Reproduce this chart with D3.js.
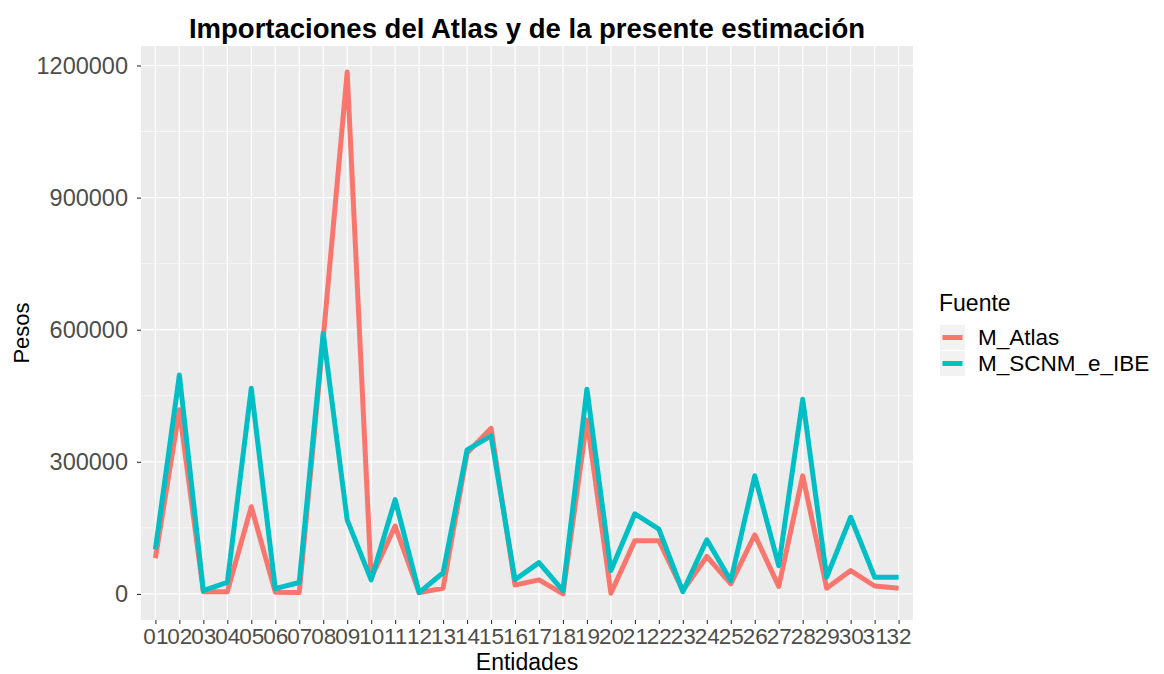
<!DOCTYPE html>
<html>
<head>
<meta charset="utf-8">
<script src="https://cdn.jsdelivr.net/npm/d3@7"></script>
<style>
  body { margin: 0; background: #fff; }
  svg { font-family: "Liberation Sans", Arial, sans-serif; }
</style>
</head>
<body>
<svg id="chart"></svg>
<script>
// Datos
const entidades = ["01","02","03","04","05","06","07","08","09","10","11","12","13","14","15","16",
                   "17","18","19","20","21","22","23","24","25","26","27","28","29","30","31","32"];
const m_atlas = [81000, 418000, 5000, 5000, 198000, 4000, 3000, 580000, 1185000, 36000, 154000, 3000,
                 13000, 320000, 376000, 20000, 32000, 0, 395000, 1500, 121000, 121000, 7500, 85000,
                 23000, 134000, 17000, 268000, 13000, 53000, 18000, 13000];
const m_scnm = [101000, 497000, 7500, 26000, 467000, 12000, 26000, 592000, 168000, 32000, 214000, 3000,
                48000, 327000, 359000, 32000, 71000, 7500, 465000, 53000, 182000, 147000, 5000, 123000,
                30000, 268000, 64000, 442000, 38000, 174000, 38000, 38000];
const fuentes = ["M_Atlas", "M_SCNM_e_IBE"];
const colores = ["#F8766D", "#00BFC4"];
const yTicks = [0, 300000, 600000, 900000, 1200000];
const yMinor = [150000, 450000, 750000, 1050000];

var width = 1164, height = 674;
var margin = { top: 46, right: 251, bottom: 54, left: 141 };
var x0 = margin.left, x1 = width - margin.right,
    y0 = margin.top, y1 = height - margin.bottom;

const svg = d3.select("#chart")
    .attr("width", width)
    .attr("height", height);

svg.append("rect").attr("width", width).attr("height", height).attr("fill", "#fff");

// Escalas
var x = d3.scalePoint()
    .domain(entidades)
    .range([x0, x1])
    .padding(0.6);

var maxV = d3.max(m_atlas.concat(m_scnm));
var minV = d3.min(m_atlas.concat(m_scnm));
var pad = (maxV - minV) * 0.05;
var y = d3.scaleLinear()
    .domain([minV - pad, maxV + pad])
    .range([y1, y0]);

// Panel
svg.append("rect")
    .attr("x", x0).attr("y", y0)
    .attr("width", x1 - x0).attr("height", y1 - y0)
    .attr("fill", "#EBEBEB");

// Rejilla
svg.append("g").selectAll("line")
    .data(yMinor)
    .enter().append("line")
    .attr("x1", x0).attr("x2", x1)
    .attr("y1", d => y(d)).attr("y2", d => y(d))
    .attr("stroke", "#fff").attr("stroke-width", 0.6);

svg.append("g").selectAll("line")
    .data(yTicks)
    .enter().append("line")
    .attr("x1", x0).attr("x2", x1)
    .attr("y1", d => y(d)).attr("y2", d => y(d))
    .attr("stroke", "#fff").attr("stroke-width", 1.2);

svg.append("g").selectAll("line")
    .data(entidades)
    .enter().append("line")
    .attr("x1", d => x(d)).attr("x2", d => x(d))
    .attr("y1", y0).attr("y2", y1)
    .attr("stroke", "#fff").attr("stroke-width", 1.2);

// Lineas
var series = [m_atlas, m_scnm];
var line = d3.line()
    .x((d, i) => x(entidades[i]))
    .y(d => y(d));

svg.append("g").selectAll("path")
    .data(series)
    .enter().append("path")
    .attr("d", d => line(d))
    .attr("fill", "none")
    .attr("stroke", (d, i) => colores[i])
    .attr("stroke-width", 5)
    .attr("stroke-linejoin", "round")
    .attr("stroke-linecap", "butt");

// Eje X
svg.append("g")
    .attr("transform", `translate(0,${y1})`)
    .call(d3.axisBottom(x).tickSize(4).tickPadding(4))
    .call(g => g.select(".domain").remove())
    .call(g => g.selectAll(".tick line").attr("stroke", "#333").attr("stroke-width", 1.1))
    .call(g => g.selectAll(".tick text")
        .attr("fill", "#4D4D4D")
        .style("font-size", "22.5px")
        .style("font-family", "Liberation Sans, Arial, sans-serif"));

// Eje Y
svg.append("g")
    .attr("transform", `translate(${x0},0)`)
    .call(d3.axisLeft(y).tickValues(yTicks).tickFormat(d3.format("d")).tickSize(4).tickPadding(9))
    .call(g => g.select(".domain").remove())
    .call(g => g.selectAll(".tick line").attr("stroke", "#333").attr("stroke-width", 1.1))
    .call(g => g.selectAll(".tick text")
        .attr("fill", "#4D4D4D")
        .style("font-size", "23.5px")
        .style("font-family", "Liberation Sans, Arial, sans-serif"));

// Titulos
svg.append("text")
    .attr("x", (x0 + x1) / 2)
    .attr("y", 38)
    .attr("text-anchor", "middle")
    .style("font-size", "27.5px")
    .style("font-weight", "bold")
    .text("Importaciones del Atlas y de la presente estimación");

svg.append("text")
    .attr("x", (x0 + x1) / 2)
    .attr("y", 670)
    .attr("text-anchor", "middle")
    .style("font-size", "23px")
    .text("Entidades");

svg.append("text")
    .attr("transform", `translate(29,${(y0 + y1) / 2}) rotate(-90)`)
    .attr("text-anchor", "middle")
    .style("font-size", "22px")
    .text("Pesos");

// Leyenda
var leg = svg.append("g").attr("transform", "translate(940,0)");
leg.append("text")
    .attr("x", -1).attr("y", 311)
    .style("font-size", "23px")
    .text("Fuente");

var items = leg.selectAll("g.item")
    .data(fuentes)
    .enter().append("g")
    .attr("class", "item")
    .attr("transform", (d, i) => `translate(0,${325 + i * 26})`);

items.append("rect")
    .attr("width", 25).attr("height", 25)
    .attr("fill", "#F2F2F2");

items.append("line")
    .attr("x1", 2.5).attr("x2", 22.5)
    .attr("y1", 12.5).attr("y2", 12.5)
    .attr("stroke", (d, i) => colores[i])
    .attr("stroke-width", 5);

items.append("text")
    .attr("x", 38).attr("y", 12.5)
    .attr("dy", "0.35em")
    .style("font-size", "22.5px")
    .text(d => d);
</script>
</body>
</html>
